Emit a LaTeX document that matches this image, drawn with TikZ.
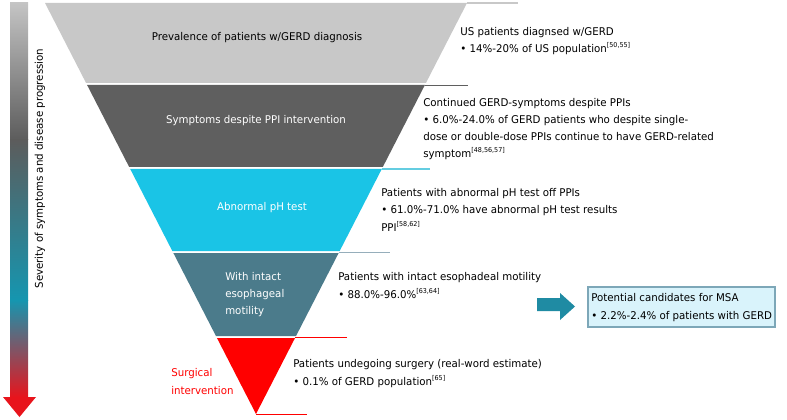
\documentclass[tikz,border=0pt]{standalone}
\usepackage{fontspec}
\setmainfont{DejaVu Sans}[FakeStretch=0.96]
\usetikzlibrary{positioning,calc}
\definecolor{bandlight}{RGB}{200,200,200}
\definecolor{banddark} {RGB}{ 95, 95, 95}
\definecolor{bandcyan} {RGB}{ 26,196,230}
\definecolor{bandsteel}{RGB}{ 75,123,139}
\definecolor{bandred}  {RGB}{255,  0,  0}
\definecolor{linecyan} {RGB}{100,205,225}
\definecolor{linesteel}{RGB}{150,174,187}
\definecolor{sevlight} {RGB}{196,196,196}
\definecolor{sevdark}  {RGB}{ 92, 92, 92}
\definecolor{sevteal}  {RGB}{ 21,150,176}
\definecolor{sevred}   {RGB}{232, 20, 28}
\definecolor{msateal}  {RGB}{ 31,139,163}
\definecolor{msafill}  {RGB}{217,243,251}
\definecolor{msaedge}  {RGB}{125,167,184}
\newcommand{\txtfont}{\fontsize{8}{12.9}\selectfont}
\newcommand{\refnum}[1]{\raisebox{0.45em}{\fontsize{5}{5}\selectfont[#1]}}

\begin{document}
\begin{tikzpicture}[x=0.75pt,y=-0.75pt,
  band/.style={fill=#1, draw=none},
  rimline/.style={draw=#1, line width=1.1pt},
  bandtxt/.style={font=\txtfont, inner sep=0pt, anchor=base, text=#1},
  info/.style={font=\txtfont, inner sep=0pt, anchor=base west, align=left},
  msabox/.style={rectangle, draw=msaedge, fill=msafill, line width=0.8pt,
                 minimum width=140.25pt, minimum height=30pt, inner sep=0pt}
]
  \useasboundingbox (0,0) rectangle (787,420);

  % severity bar on the left
  \shade[top color=sevlight, bottom color=sevdark] (10,3)   rectangle (28,140);
  \shade[top color=sevdark,  bottom color=sevteal] (10,140) rectangle (28,300);
  \shade[top color=sevteal,  bottom color=sevred]  (10,300) rectangle (28,397.5);
  \fill[sevred] (3,397) -- (36,397) -- (19.5,417) -- cycle;
  \node[font=\txtfont, rotate=90, inner sep=0pt] (sev) at (40,168.5)
        {Severity of symptoms and disease progression};

  % funnel bands
  \fill[band=bandlight] (45,3)        -- (467,3)        -- (425.93,83)  -- (86.07,83)  -- cycle;
  \fill[band=banddark]  (87.1,85)     -- (424.9,85)     -- (382.81,167) -- (129.19,167) -- cycle;
  \fill[band=bandcyan]  (130.22,169)  -- (381.78,169)   -- (339.68,251) -- (172.32,251) -- cycle;
  \fill[band=bandsteel] (173.35,253)  -- (338.65,253)   -- (296.04,336) -- (215.96,336) -- cycle;
  \fill[band=bandred]   (216.98,338)  -- (295.02,338)   -- (256,414)    -- cycle;

  % rim lines to the right
  \draw[rimline=bandlight] (467,3)      -- (518,3);
  \draw[rimline=banddark]  (424.9,85.5) -- (468,85.5);
  \draw[rimline=linecyan]  (381.8,169)  -- (430,169);
  \draw[rimline=linesteel] (338.7,252.5)-- (390,252.5);
  \draw[rimline=bandred]   (295,337.5)  -- (347,337.5);
  \draw[rimline=bandred]   (256,414.5)  -- (307,414.5);

  % labels inside the funnel (base = last line)
  \node[bandtxt=black] (prev) at (257,41)  {Prevalence of patients w/GERD diagnosis};
  \node[bandtxt=white] (ppi)  at (256,124) {Symptoms despite PPI intervention};
  \node[bandtxt=white] (ph)   at (262,210) {Abnormal pH test};
  \node[bandtxt=white, anchor=base west, align=left,
        font=\fontsize{8}{12.4}\selectfont] (motil) at (225,314)
        {With intact\\esophageal\\motility};
  \node[bandtxt=bandred, anchor=base west, align=left] (surg) at (171,394)
        {Surgical\\intervention};

  % explanations on the right
  \node[info] (usinfo) at (460,52.3)
        {US patients diagnsed w/GERD\\
         \textbullet\ 14\%-20\% of US population\refnum{50,55}};
  \node[info] (ppiinfo) at (423,157.7)
        {Continued GERD-symptoms despite PPIs\\
         \textbullet\ 6.0\%-24.0\% of GERD patients who despite single-\\
         dose or double-dose PPIs continue to have GERD-related\\
         symptom\refnum{48,56,57}};
  \node[info] (phinfo) at (381,231)
        {Patients with abnormal pH test off PPIs\\
         \textbullet\ 61.0\%-71.0\% have abnormal pH test results\\
         PPI\refnum{58,62}};
  \node[info] (motinfo) at (338,298)
        {Patients with intact esophadeal motility\\
         \textbullet\ 88.0\%-96.0\%\refnum{63,64}};
  \node[info] (surginfo) at (293,385)
        {Patients undegoing surgery (real-word estimate)\\
         \textbullet\ 0.1\% of GERD population\refnum{65}};

  % candidates for MSA
  \fill[msateal] (537,298) -- (560,298) -- (560,293) -- (575,306.5)
                 -- (560,320) -- (560,311) -- (537,311) -- cycle;
  \node[msabox] (msa) at (681.5,307) {};
  \node[info] (msainfo) at (591,319)
        {Potential candidates for MSA\\
         \textbullet\ 2.2\%-2.4\% of patients with GERD};
\end{tikzpicture}
\end{document}
